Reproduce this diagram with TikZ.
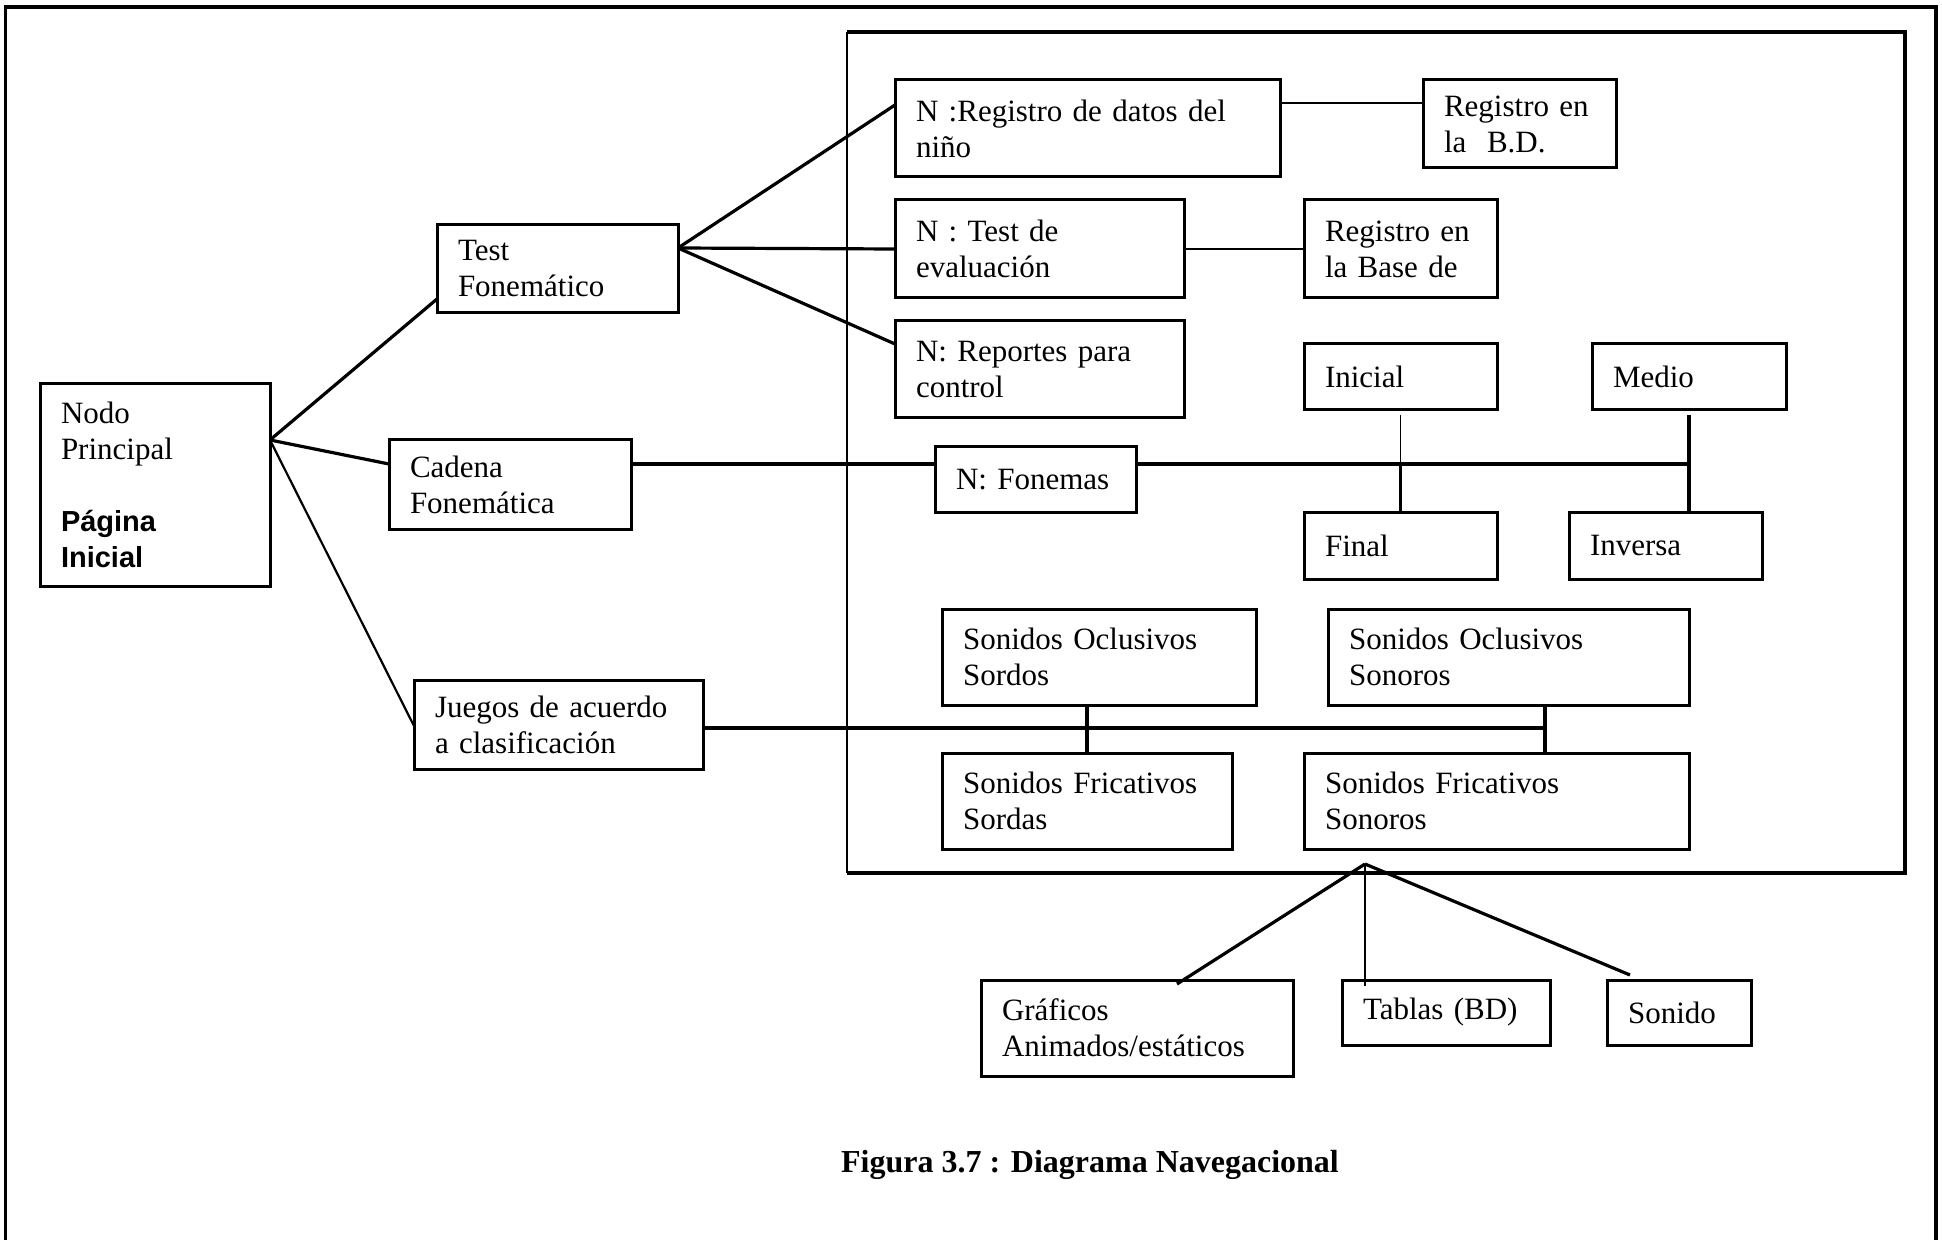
\documentclass[tikz,border=0pt]{standalone}
\usepackage{fontspec}
\setmainfont{Liberation Serif}
\setsansfont{Liberation Sans}
\usetikzlibrary{calc}
\tikzset{
  bx/.style={draw, line width=1.5pt, inner xsep=10.5pt, inner ysep=0pt, outer sep=0pt,
    align=left, font=\fontsize{15.5}{18}\selectfont},
  thk/.style={line width=1.6pt},
  mid/.style={line width=1.1pt},
  thn/.style={line width=0.6pt},
}
\newcommand\mkbox[6]{%
  \pgfmathsetmacro\bw{(#4-#2)*0.5}%
  \pgfmathsetmacro\bh{(#5-#3)*0.5}%
  \pgfmathsetmacro\tw{(#4-#2)*0.5-21}%
  \node[bx, minimum width=\bw pt, minimum height=\bh pt, text width=\tw pt]
    (#1) at ({(#2+#4)/2},{(#3+#5)/2}) {#6};}
\newcommand\pgi[1]{{\sffamily\bfseries\fontsize{14.5}{18}\selectfont #1}}
\begin{document}
\begin{tikzpicture}[x=0.5pt,y=-0.5pt]
\useasboundingbox (0,0) rectangle (1942,1240);
% outer frame
\draw[line width=1.7pt] (5.5,1240) -- (5.5,7) -- (1936,7) -- (1936,1240);
% inner frame
\draw[thk] (847,32) -- (1905,32) -- (1905,873) -- (847,873);
\draw[thn] (847,32) -- (847,873);

\mkbox{nodo}{40}{384}{270}{586}{Nodo\\Principal\\[18pt]\pgi{Página}\\\pgi{Inicial}}
\mkbox{test}{437}{225}{678}{313}{Test\\Fonemático}
\mkbox{cad}{389}{440}{631}{529}{Cadena\\Fonemática}
\mkbox{jue}{414}{680}{703}{769}{Juegos de acuerdo\\a clasificación}
\mkbox{nreg}{895}{80}{1280}{177}{N :Registro de datos del\\niño}
\mkbox{regbd}{1423}{80}{1616}{168}{Registro en\\la\ \ B.D.}
\mkbox{ntest}{895}{200}{1184}{298}{N : Test de\\evaluación}
\mkbox{regbase}{1304}{200}{1497}{298}{Registro en\\la Base de}
\mkbox{nrep}{895}{321}{1184}{418}{N: Reportes para\\control}
\mkbox{ini}{1304}{344}{1497}{410}{Inicial}
\mkbox{med}{1592}{344}{1786}{410}{Medio}
\mkbox{fon}{935}{447}{1136}{513}{N: Fonemas}
\mkbox{fin}{1304}{513}{1497}{579}{Final}
\mkbox{inv}{1569}{513}{1762}{579}{Inversa}
\mkbox{ocl1}{942}{609}{1256}{705}{Sonidos Oclusivos\\Sordos}
\mkbox{ocl2}{1328}{609}{1689}{705}{Sonidos Oclusivos\\Sonoros}
\mkbox{fri1}{942}{753}{1232}{849}{Sonidos Fricativos\\Sordas}
\mkbox{fri2}{1304}{753}{1689}{849}{Sonidos Fricativos\\Sonoros}
\mkbox{gra}{981}{980}{1293}{1076}{Gráficos\\Animados/estáticos}
\mkbox{tab}{1342}{980}{1550}{1045}{Tablas (BD)}
\mkbox{son}{1607}{980}{1751}{1045}{Sonido}

\node[font=\fontsize{16}{19}\selectfont\bfseries] (cap) at (1090,1165) {Figura 3.7 : Diagrama Navegacional};

% from main node
\coordinate (na) at ($(nodo.north east)+(0,56)$);
\draw[thk] (na) -- ($(test.south west)+(0,-14)$);
\draw[thk] (na) -- ($(cad.north west)+(0,24)$);
\draw[mid] (na) -- ($(jue.north west)+(0,46)$);
% from test
\coordinate (ta) at ($(test.north east)+(0,23)$);
\draw[thk] (ta) -- ($(nreg.north west)+(0,25)$);
\draw[thk] (ta) -- (ntest.west);
\draw[thk] (ta) -- ($(nrep.north west)+(0,23)$);
\draw[mid] ($(nreg.north east)+(0,23)$) -- ($(regbd.north west)+(0,23)$);
\draw[mid] (ntest.east) -- (regbase.west);
% cadena
\draw[thk] ($(cad.north east)+(0,24)$) -- ($(fon.north west)+(0,17)$);
\coordinate (mj) at ($(med.south)+(0,54)$);
\coordinate (ij) at ($(ini.south)+(0,54)$);
\draw[thk] ($(fon.north east)+(0,17)$) -- (mj);
\draw[thk] ($(med.south)+(0,5)$) -- (med.south |- inv.north);
\draw[thn] ($(ini.south)+(0,5)$) -- (ij);
\draw[thk] (ij) -- (fin.north);
% juegos
\coordinate (oj) at ($(ocl2.south west)+(217,0)$);
\draw[thk] ($(jue.north east)+(0,48)$) -- ($(oj)+(0,23)$);
\draw[thk] (oj) -- (oj |- fri2.north);
\draw[thk] (fri1.north |- ocl1.south) -- (fri1.north);
% bottom
\coordinate (ap) at ($(fri2.south west)+(61,15)$);
\draw[thk] (ap) -- ($(gra.north west)+(196,4)$);
\draw[thn] (ap) -- ($(tab.north west)+(23,6)$);
\draw[thk] (ap) -- ($(son.north west)+(23,-5)$);
\end{tikzpicture}
\end{document}
